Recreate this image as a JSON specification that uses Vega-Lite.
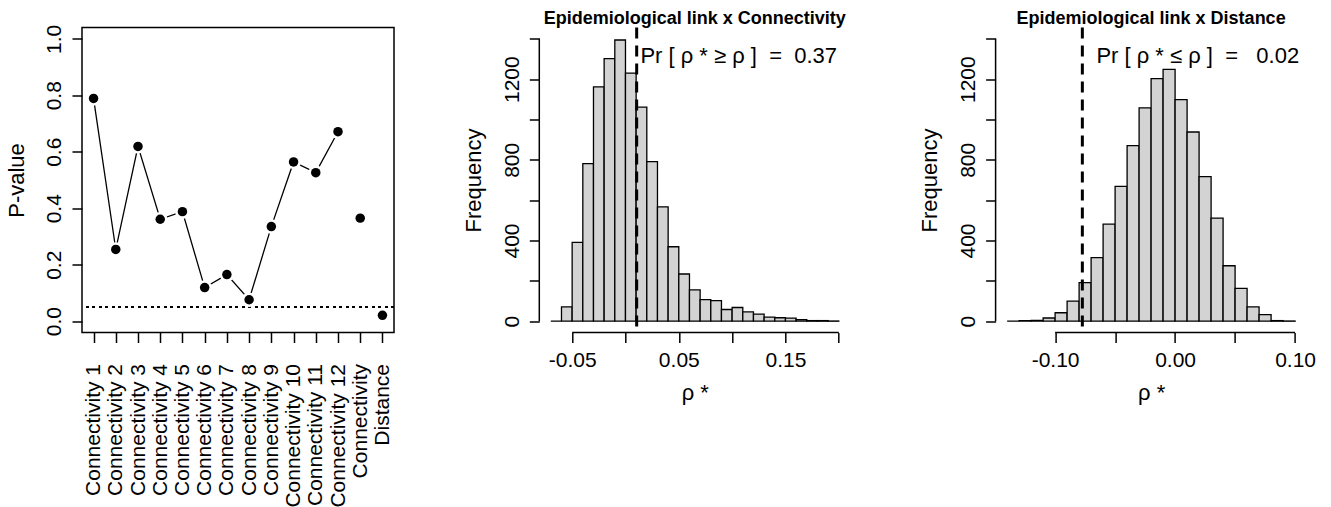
{
  "$schema": "https://vega.github.io/schema/vega-lite/v6.json",
  "background": "white",
  "padding": {"left": 4, "top": 9.5, "right": 5, "bottom": 0},
  "bounds": "flush",
  "spacing": 145.3,
  "config": {
    "font": "Liberation Sans",
    "view": {"stroke": null},
    "axis": {
      "grid": false, "domain": false, "tickColor": "black", "tickWidth": 1.5, "tickSize": 10,
      "labelColor": "black", "titleColor": "black", "labelFontSize": 21, "titleFontSize": 22,
      "titleFontWeight": "normal", "labelOverlap": false, "labelFlush": false,
      "labelFont": "Liberation Sans", "titleFont": "Liberation Sans"
    },
    "title": {"font": "Liberation Sans", "fontSize": 18, "fontWeight": "bold", "color": "black", "anchor": "middle", "frame": "group", "baseline": "alphabetic", "offset": -2.2}
  },
  "datasets": {
    "pvals": [
      {"idx": 1, "label": "Connectivity 1", "pval": 0.789},
      {"idx": 2, "label": "Connectivity 2", "pval": 0.254},
      {"idx": 3, "label": "Connectivity 3", "pval": 0.619},
      {"idx": 4, "label": "Connectivity 4", "pval": 0.361},
      {"idx": 5, "label": "Connectivity 5", "pval": 0.388},
      {"idx": 6, "label": "Connectivity 6", "pval": 0.119},
      {"idx": 7, "label": "Connectivity 7", "pval": 0.165},
      {"idx": 8, "label": "Connectivity 8", "pval": 0.076},
      {"idx": 9, "label": "Connectivity 9", "pval": 0.335},
      {"idx": 10, "label": "Connectivity 10", "pval": 0.564},
      {"idx": 11, "label": "Connectivity 11", "pval": 0.526},
      {"idx": 12, "label": "Connectivity 12", "pval": 0.671},
      {"idx": 13, "label": "Connectivity", "pval": 0.365},
      {"idx": 14, "label": "Distance", "pval": 0.021}
    ],
    "conn": [
      {"x0": -0.07, "x1": -0.06, "count": 0},
      {"x0": -0.06, "x1": -0.05, "count": 71},
      {"x0": -0.05, "x1": -0.04, "count": 391},
      {"x0": -0.04, "x1": -0.03, "count": 781},
      {"x0": -0.03, "x1": -0.02, "count": 1162},
      {"x0": -0.02, "x1": -0.01, "count": 1302},
      {"x0": -0.01, "x1": 0.0, "count": 1394},
      {"x0": 0.0, "x1": 0.01, "count": 1230},
      {"x0": 0.01, "x1": 0.02, "count": 1061},
      {"x0": 0.02, "x1": 0.03, "count": 791},
      {"x0": 0.03, "x1": 0.04, "count": 567},
      {"x0": 0.04, "x1": 0.05, "count": 369},
      {"x0": 0.05, "x1": 0.06, "count": 234},
      {"x0": 0.06, "x1": 0.07, "count": 155},
      {"x0": 0.07, "x1": 0.08, "count": 107},
      {"x0": 0.08, "x1": 0.09, "count": 102},
      {"x0": 0.09, "x1": 0.10, "count": 58},
      {"x0": 0.10, "x1": 0.11, "count": 68},
      {"x0": 0.11, "x1": 0.12, "count": 46},
      {"x0": 0.12, "x1": 0.13, "count": 35},
      {"x0": 0.13, "x1": 0.14, "count": 20},
      {"x0": 0.14, "x1": 0.15, "count": 17},
      {"x0": 0.15, "x1": 0.16, "count": 15},
      {"x0": 0.16, "x1": 0.17, "count": 8},
      {"x0": 0.17, "x1": 0.18, "count": 3},
      {"x0": 0.18, "x1": 0.19, "count": 3},
      {"x0": 0.19, "x1": 0.20, "count": 1}
    ],
    "dist": [
      {"x0": -0.14, "x1": -0.13, "count": 0},
      {"x0": -0.13, "x1": -0.12, "count": 3},
      {"x0": -0.12, "x1": -0.11, "count": 4},
      {"x0": -0.11, "x1": -0.10, "count": 16},
      {"x0": -0.10, "x1": -0.09, "count": 42},
      {"x0": -0.09, "x1": -0.08, "count": 100},
      {"x0": -0.08, "x1": -0.07, "count": 191},
      {"x0": -0.07, "x1": -0.06, "count": 315},
      {"x0": -0.06, "x1": -0.05, "count": 481},
      {"x0": -0.05, "x1": -0.04, "count": 668},
      {"x0": -0.04, "x1": -0.03, "count": 870},
      {"x0": -0.03, "x1": -0.02, "count": 1058},
      {"x0": -0.02, "x1": -0.01, "count": 1203},
      {"x0": -0.01, "x1": 0.0, "count": 1248},
      {"x0": 0.0, "x1": 0.01, "count": 1098},
      {"x0": 0.01, "x1": 0.02, "count": 938},
      {"x0": 0.02, "x1": 0.03, "count": 717},
      {"x0": 0.03, "x1": 0.04, "count": 511},
      {"x0": 0.04, "x1": 0.05, "count": 275},
      {"x0": 0.05, "x1": 0.06, "count": 163},
      {"x0": 0.06, "x1": 0.07, "count": 71},
      {"x0": 0.07, "x1": 0.08, "count": 33},
      {"x0": 0.08, "x1": 0.09, "count": 3},
      {"x0": 0.09, "x1": 0.10, "count": 1}
    ]
  },
  "hconcat": [
    {
      "width": 312, "height": 305,
      "view": {"stroke": "black", "strokeWidth": 1.5},
      "data": {"name": "pvals"},
      "layer": [
        {
          "mark": {"type": "rule", "strokeDash": [2.5, 4], "strokeWidth": 1.3, "color": "black"},
          "encoding": {"y": {"datum": 0.05}}
        },
        {
          "transform": [{"filter": "datum.idx <= 12"}],
          "mark": {"type": "line", "color": "black", "strokeWidth": 1.3},
          "encoding": {
            "x": {"field": "label", "type": "nominal", "sort": {"field": "idx", "op": "min"}},
            "y": {"field": "pval", "type": "quantitative"},
            "order": {"field": "idx"}
          }
        },
        {
          "mark": {"type": "point", "shape": "circle", "filled": true, "color": "white", "opacity": 1, "size": 215},
          "encoding": {
            "x": {"field": "label", "type": "nominal", "sort": {"field": "idx", "op": "min"}},
            "y": {"field": "pval", "type": "quantitative"}
          }
        },
        {
          "mark": {"type": "point", "shape": "circle", "filled": true, "color": "black", "opacity": 1, "size": 90},
          "encoding": {
            "x": {
              "field": "label", "type": "nominal", "sort": {"field": "idx", "op": "min"},
              "scale": {"type": "point", "padding": 0.52},
              "axis": {"title": null, "labelAngle": -90, "labelAlign": "right", "labelBaseline": "middle", "labelPadding": 21, "labelLimit": 300}
            },
            "y": {
              "field": "pval", "type": "quantitative",
              "scale": {"domain": [-0.04, 1.04], "nice": false, "zero": false},
              "axis": {
                "title": "P-value", "values": [0, 0.2, 0.4, 0.6, 0.8, 1.0], "format": ".1f",
                "labelAngle": -90, "labelAlign": "center", "labelBaseline": "alphabetic", "labelPadding": 11.3,
                "titleAngle": -90, "titleBaseline": "alphabetic", "titleAlign": "center", "titleX": -58.3, "titleY": 152.5
              }
            }
          }
        }
      ]
    },
    {
      "width": 311, "height": 305,
      "title": "Epidemiological link x Connectivity",
      "layer": [
        {
          "data": {"name": "conn"},
          "mark": {"type": "bar", "fill": "#d3d3d3", "stroke": "black", "strokeWidth": 1.3},
          "encoding": {
            "x": {
              "field": "x0", "type": "quantitative",
              "scale": {"domain": [-0.0808, 0.2108], "nice": false, "zero": false},
              "axis": {
                "title": "ρ *", "values": [-0.05, 0, 0.05, 0.1, 0.15, 0.2],
                "labelExpr": "round(datum.value*100) % 10 != 0 ? replace(format(datum.value, '.2f'), '\u2212', '-') : ''",
                "labelBaseline": "top", "labelPadding": 7,
                "titleBaseline": "alphabetic", "titleY": 67, "titleX": 155.5
              }
            },
            "x2": {"field": "x1"},
            "y": {
              "field": "count", "type": "quantitative",
              "scale": {"domain": [-56, 1456], "nice": false, "zero": false},
              "axis": {
                "title": "Frequency", "values": [0, 200, 400, 600, 800, 1000, 1200, 1400],
                "labelExpr": "datum.value % 400 == 0 ? format(datum.value, 'd') : ''",
                "labelAngle": -90, "labelAlign": "center", "labelBaseline": "alphabetic", "labelPadding": 10.7,
                "titleAngle": -90, "titleBaseline": "alphabetic", "titleAlign": "center", "titleX": -59, "titleY": 152.5
              }
            },
            "y2": {"datum": 0}
          }
        },
        {
          "data": {"values": [{}]},
          "mark": {"type": "rule", "color": "black", "strokeWidth": 1.5},
          "encoding": {"x": {"datum": -0.0808}, "y": {"datum": 0}, "y2": {"datum": 1400}}
        },
        {
          "data": {"values": [{}]},
          "mark": {"type": "rule", "color": "black", "strokeWidth": 1.5},
          "encoding": {"y": {"datum": -56}, "x": {"datum": -0.05}, "x2": {"datum": 0.2}}
        },
        {
          "data": {"values": [{}]},
          "mark": {"type": "rule", "color": "black", "strokeWidth": 3, "strokeDash": [11, 7]},
          "encoding": {"x": {"datum": 0.0105}}
        },
        {
          "data": {"values": [{}]},
          "mark": {"type": "text", "text": "Pr [ ρ * ≥ ρ ]\u00a0\u00a0=\u00a0\u00a00.37", "align": "left", "baseline": "alphabetic", "fontSize": 22, "font": "Liberation Sans", "color": "black"},
          "encoding": {"x": {"datum": 0.014}, "y": {"datum": 1282}}
        }
      ]
    },
    {
      "width": 311, "height": 305,
      "title": "Epidemiological link x Distance",
      "layer": [
        {
          "data": {"name": "dist"},
          "mark": {"type": "bar", "fill": "#d3d3d3", "stroke": "black", "strokeWidth": 1.3},
          "encoding": {
            "x": {
              "field": "x0", "type": "quantitative",
              "scale": {"domain": [-0.1496, 0.1096], "nice": false, "zero": false},
              "axis": {
                "title": "ρ *", "values": [-0.1, -0.05, 0, 0.05, 0.1],
                "labelExpr": "round(datum.value*100) % 10 == 0 ? replace(format(datum.value, '.2f'), '\u2212', '-') : ''",
                "labelBaseline": "top", "labelPadding": 7,
                "titleBaseline": "alphabetic", "titleY": 67, "titleX": 155.5
              }
            },
            "x2": {"field": "x1"},
            "y": {
              "field": "count", "type": "quantitative",
              "scale": {"domain": [-56, 1456], "nice": false, "zero": false},
              "axis": {
                "title": "Frequency", "values": [0, 200, 400, 600, 800, 1000, 1200, 1400],
                "labelExpr": "datum.value % 400 == 0 ? format(datum.value, 'd') : ''",
                "labelAngle": -90, "labelAlign": "center", "labelBaseline": "alphabetic", "labelPadding": 10.7,
                "titleAngle": -90, "titleBaseline": "alphabetic", "titleAlign": "center", "titleX": -59, "titleY": 152.5
              }
            },
            "y2": {"datum": 0}
          }
        },
        {
          "data": {"values": [{}]},
          "mark": {"type": "rule", "color": "black", "strokeWidth": 1.5},
          "encoding": {"x": {"datum": -0.1496}, "y": {"datum": 0}, "y2": {"datum": 1400}}
        },
        {
          "data": {"values": [{}]},
          "mark": {"type": "rule", "color": "black", "strokeWidth": 1.5},
          "encoding": {"y": {"datum": -56}, "x": {"datum": -0.1}, "x2": {"datum": 0.1}}
        },
        {
          "data": {"values": [{}]},
          "mark": {"type": "rule", "color": "black", "strokeWidth": 3, "strokeDash": [11, 7]},
          "encoding": {"x": {"datum": -0.0773}}
        },
        {
          "data": {"values": [{}]},
          "mark": {"type": "text", "text": "Pr [ ρ * ≤ ρ ]\u00a0\u00a0=\u00a0\u00a0\u00a00.02", "align": "left", "baseline": "alphabetic", "fontSize": 22, "font": "Liberation Sans", "color": "black"},
          "encoding": {"x": {"datum": -0.0656}, "y": {"datum": 1282}}
        }
      ]
    }
  ]
}
